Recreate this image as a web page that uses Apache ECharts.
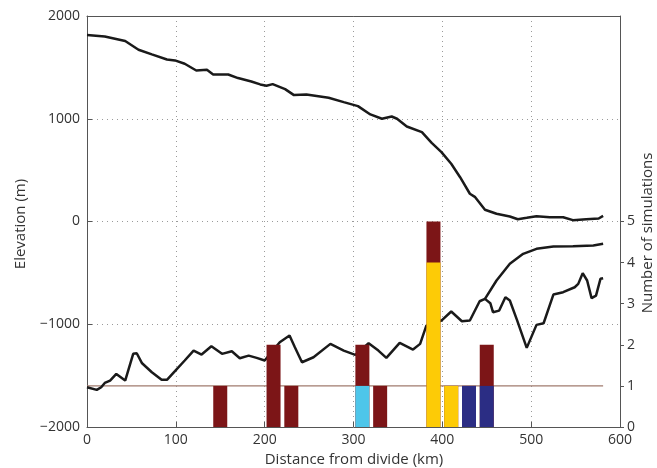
<!DOCTYPE html>
<html>
<head>
<meta charset="utf-8">
<script src="https://cdn.jsdelivr.net/npm/echarts@6/dist/echarts.min.js"></script>
<style>html,body{margin:0;padding:0;background:#fff}#c{width:657px;height:468px}</style>
</head>
<body>
<div id="c"></div>
<script>
// Surface elevation profile (km, m)
const surfaceX = [0,20,43,58,73,90,99,110,123,135,142,159,170,185,195,202,209,223,233,247,272,289,305,319,332,343,349,360,377,388,399,410,420,431,437,448,461,476,485,495,506,521,536,547,562,576,581];
const surfaceY = [1815,1801,1756,1672,1626,1577,1568,1535,1470,1477,1431,1431,1396,1363,1334,1321,1337,1288,1230,1237,1204,1162,1123,1042,1000,1022,1000,925,870,765,675,562,431,270,237,114,75,49,22,36,52,42,42,13,22,29,55];
// Bed elevation profile
const bedX = [0,11,16,20,26,33,43,52,56,62,73,84,90,99,110,120,129,140,152,163,172,182,191,200,202,217,228,234,242,255,274,289,302,317,328,337,352,367,375,382,399,410,422,431,442,448,454,457,464,471,476,484,495,506,514,525,536,549,553,558,563,568,573,578,581];
const bedY = [-1613,-1639,-1613,-1571,-1548,-1483,-1548,-1288,-1282,-1380,-1467,-1541,-1541,-1457,-1353,-1256,-1295,-1214,-1288,-1263,-1331,-1305,-1327,-1353,-1370,-1175,-1110,-1224,-1370,-1321,-1191,-1256,-1298,-1185,-1256,-1327,-1181,-1246,-1191,-1013,-964,-876,-971,-964,-776,-753,-795,-883,-867,-737,-769,-957,-1230,-1006,-990,-711,-688,-640,-607,-503,-574,-746,-721,-558,-552];
// Smooth branch
const smoothX = [448,461,476,491,506,525,547,570,581];
const smoothY = [-753,-574,-412,-315,-266,-244,-240,-234,-217];
// Reference line at 1 simulation
const refX = [0,581];
const refY = [1,1];
// Histogram of simulations (stacked: bottom colour, dark red on top)
const barX = [150,210,230,310,330,390,410,430,450];
const cyanCount = [0,0,0,1,0,0,0,0,0];
const yellowCount = [0,0,0,0,0,4,1,0,0];
const navyCount = [0,0,0,0,0,0,0,1,1];
const darkRedCount = [1,2,1,1,1,1,0,0,1];
const xTicks = [0,100,200,300,400,500,600];
const leftTicks = [-2000,-1000,0,1000,2000];
const rightTicks = [0,1,2,3,4,5];

const FONT = '"Open Sans", "DejaVu Sans", sans-serif';
const zip = (a, b) => a.map((v, i) => [v, b[i]]);
// stack tops: dark red sits on top of whichever lower colour is present
const totals = barX.map((_, i) => cyanCount[i] + yellowCount[i] + navyCount[i] + darkRedCount[i]);
const chart = echarts.init(document.getElementById('c'), null, {renderer: 'canvas'});
const gridStyle = {color: '#9a9a9a', width: 1, type: [1, 4]};
const barSeries = (name, data, color, z) => ({
  name, type: 'bar', xAxisIndex: 0, yAxisIndex: 1,
  data: zip(barX, data).filter(d => d[1] > 0), barWidth: 14, barGap: '-100%', z,
  itemStyle: {color}, emphasis: {disabled: true}, silent: true
});
const lineSeries = (xs, ys) => ({
  type: 'line', xAxisIndex: 0, yAxisIndex: 0, data: zip(xs, ys),
  showSymbol: false, symbol: 'none', smooth: false, z: 3, silent: true,
  lineStyle: {color: '#1a1a1a', width: 2.5}
});
chart.setOption({
  animation: false,
  backgroundColor: '#fff',
  grid: {left: 87, right: 37, top: 16, bottom: 41, containLabel: false},
  xAxis: [{
    type: 'value', min: 0, max: 600, interval: 100, position: 'bottom',
    axisLine: {show: true, onZero: false, lineStyle: {color: '#555', width: 1}},
    axisTick: {show: true, inside: true, length: 5, lineStyle: {color: '#555'}},
    axisLabel: {color: '#333', fontSize: 14, fontFamily: FONT, margin: 6,
      customValues: xTicks, formatter: v => String(v)},
    splitLine: {show: true, lineStyle: gridStyle}
  }, {
    type: 'value', min: 0, max: 600, position: 'top',
    axisLine: {show: true, onZero: false, lineStyle: {color: '#555', width: 1}},
    axisTick: {show: false}, axisLabel: {show: false}, splitLine: {show: false}
  }],
  yAxis: [{
    type: 'value', min: -2000, max: 2000, interval: 1000, position: 'left',
    axisLine: {show: true, onZero: false, lineStyle: {color: '#555', width: 1}},
    axisTick: {show: true, inside: true, length: 5, lineStyle: {color: '#555'}},
    axisLabel: {color: '#333', fontSize: 14, fontFamily: FONT, margin: 7,
      customValues: leftTicks, formatter: v => String(v).replace('-', '\u2212')},
    splitLine: {show: true, lineStyle: gridStyle}
  }, {
    type: 'value', min: 0, max: 10, interval: 1, position: 'right',
    axisLine: {show: true, onZero: false, lineStyle: {color: '#555', width: 1}},
    axisTick: {show: true, inside: false, length: 4, customValues: rightTicks, lineStyle: {color: '#555'}},
    axisLabel: {color: '#333', fontSize: 14, fontFamily: FONT, margin: 7,
      customValues: rightTicks, formatter: v => String(v)},
    splitLine: {show: false}
  }],
  graphic: [
    {type: 'text', rotation: Math.PI / 2, position: [21, 224],
     style: {text: 'Elevation (m)', fontSize: 15, fontFamily: FONT, fill: '#333',
       textAlign: 'center', textVerticalAlign: 'middle', x: 0, y: 0}},
    {type: 'text', rotation: Math.PI / 2, position: [648, 233],
     style: {text: 'Number of simulations', fontSize: 15, fontFamily: FONT, fill: '#333',
       textAlign: 'center', textVerticalAlign: 'middle', x: 0, y: 0}},
    {type: 'text', position: [354, 460],
     style: {text: 'Distance from divide (km)', fontSize: 15, fontFamily: FONT, fill: '#333',
       textAlign: 'center', textVerticalAlign: 'middle', x: 0, y: 0}}
  ],
  series: [
    {type: 'line', xAxisIndex: 0, yAxisIndex: 1, data: zip(refX, refY), symbol: 'none',
     showSymbol: false, z: 2, silent: true, lineStyle: {color: '#a07b6e', width: 1.2}},
    lineSeries(surfaceX, surfaceY),
    lineSeries(bedX, bedY),
    lineSeries(smoothX, smoothY),
    barSeries('darkred', totals, '#7c1517', 5),
    barSeries('cyan', cyanCount, '#4ec6ea', 6),
    barSeries('yellow', yellowCount, '#fdcb06', 6),
    barSeries('navy', navyCount, '#2b2d84', 6)
  ]
});
</script>
</body>
</html>
